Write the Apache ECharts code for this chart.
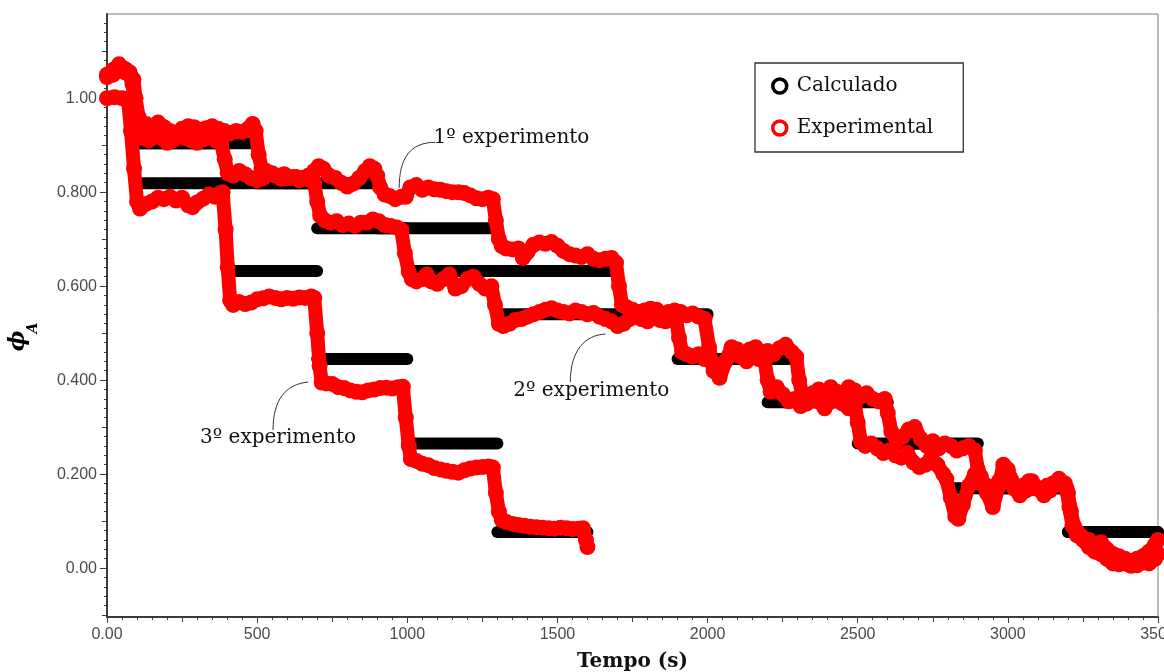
<!DOCTYPE html>
<html>
<head>
<meta charset="utf-8">
<script src="https://cdn.jsdelivr.net/npm/echarts@6/dist/echarts.min.js"></script>
<style>
  html, body { margin: 0; padding: 0; background: #ffffff; }
  #chart { width: 1164px; height: 672px; }
</style>
</head>
<body>
<div id="chart"></div>
<script>
// Axis ticks
const xTickValues = [0, 500, 1000, 1500, 2000, 2500, 3000, 3500];
const xTickLabels = ['0.00', '500', '1000', '1500', '2000', '2500', '3000', '3500'];
const yTickValues = [0, 0.2, 0.4, 0.6, 0.8, 1.0];
const yTickLabels = ['0.00', '0.200', '0.400', '0.600', '0.800', '1.00'];

// Calculated steps: [start (s), end (s), phi_A]
const calcExp1 = [
  [100, 500, 0.904], [500, 900, 0.819], [900, 1300, 0.723], [1300, 1700, 0.632],
  [1700, 2000, 0.540], [2000, 2300, 0.445], [2300, 2600, 0.353], [2600, 2900, 0.265],
  [2900, 3200, 0.170], [3200, 3500, 0.077]
];
const calcExp2 = [
  [100, 400, 0.904], [400, 700, 0.819], [700, 1000, 0.723], [1000, 1300, 0.632],
  [1300, 1900, 0.540], [1900, 2200, 0.445], [2200, 2500, 0.353], [2500, 2800, 0.265],
  [2800, 3200, 0.170], [3200, 3500, 0.077]
];
const calcExp3 = [
  [100, 400, 0.819], [400, 700, 0.632], [700, 1000, 0.445], [1000, 1300, 0.265],
  [1300, 1600, 0.077]
];

// Measured phi_A, 1st experiment: [time (s), phi_A]
const exp1 = [
  [0,1.05],[20,1.06],[40,1.072],[60,1.062],[75,1.055],[88,1.04],[95,1.0],[105,0.96],[115,0.94],
  [130,0.945],[150,0.94],[170,0.948],[190,0.938],[210,0.93],[230,0.925],[250,0.935],[270,0.94],
  [290,0.938],[310,0.932],[330,0.936],[350,0.94],[370,0.935],[390,0.93],[410,0.925],[430,0.93],
  [450,0.928],[470,0.935],[485,0.945],[495,0.93],[505,0.88],[515,0.85],
  [530,0.845],[550,0.84],[570,0.835],[590,0.838],[610,0.83],[630,0.832],[650,0.83],[670,0.835],
  [690,0.845],[705,0.855],[720,0.85],[740,0.835],[760,0.83],[780,0.82],[800,0.812],[820,0.818],
  [840,0.83],[860,0.845],[875,0.855],[890,0.85],[900,0.835],[910,0.81],[925,0.795],
  [940,0.792],[960,0.785],[980,0.79],[995,0.79],[1010,0.81],[1030,0.815],[1050,0.805],[1070,0.81],
  [1090,0.806],[1110,0.805],[1130,0.802],[1150,0.8],[1170,0.8],[1190,0.798],[1210,0.793],
  [1230,0.787],[1250,0.785],[1270,0.788],[1285,0.785],[1295,0.74],[1305,0.70],[1315,0.685],
  [1330,0.68],[1350,0.678],[1370,0.68],[1385,0.66],[1400,0.672],[1420,0.688],[1440,0.693],
  [1460,0.69],[1480,0.694],[1500,0.686],[1520,0.675],[1540,0.668],[1560,0.665],[1580,0.662],
  [1600,0.668],[1620,0.658],[1640,0.655],[1660,0.658],[1680,0.66],[1695,0.65],[1705,0.6],[1715,0.56],
  [1730,0.555],[1750,0.55],[1770,0.545],[1790,0.548],[1810,0.552],[1830,0.55],[1850,0.54],
  [1870,0.545],[1890,0.548],[1910,0.545],[1930,0.538],[1950,0.542],[1970,0.535],[1990,0.53],
  [2005,0.47],[2020,0.42],[2040,0.405],[2060,0.44],[2080,0.47],[2100,0.465],[2120,0.455],
  [2140,0.465],[2160,0.47],[2180,0.458],[2200,0.462],[2220,0.455],[2240,0.468],[2260,0.475],
  [2280,0.46],[2295,0.45],[2305,0.40],[2315,0.37],
  [2330,0.365],[2350,0.372],[2370,0.38],[2390,0.37],[2410,0.385],[2430,0.375],[2450,0.37],
  [2470,0.385],[2490,0.378],[2510,0.365],[2530,0.372],[2550,0.36],[2570,0.355],[2590,0.36],
  [2600,0.33],[2612,0.29],[2630,0.27],[2650,0.28],[2670,0.295],[2690,0.3],[2710,0.275],
  [2730,0.26],[2750,0.27],[2770,0.255],[2790,0.265],[2810,0.26],[2830,0.25],[2850,0.255],
  [2870,0.26],[2890,0.25],[2900,0.21],[2912,0.18],
  [2930,0.175],[2950,0.168],[2970,0.185],[2990,0.2],[3010,0.19],[3030,0.17],[3050,0.175],
  [3070,0.185],[3090,0.17],[3110,0.165],[3130,0.175],[3150,0.18],[3170,0.19],[3190,0.18],
  [3200,0.16],[3210,0.12],[3220,0.09],
  [3235,0.075],[3250,0.065],[3270,0.06],[3290,0.05],[3310,0.055],[3330,0.04],[3350,0.03],
  [3370,0.025],[3390,0.02],[3410,0.015],[3430,0.02],[3450,0.025],[3470,0.035],[3490,0.05],[3500,0.06]
];

// Measured phi_A, 2nd experiment
const exp2 = [
  [0,1.045],[20,1.05],[40,1.06],[60,1.055],[75,1.05],[85,1.03],[95,0.98],[105,0.94],
  [120,0.915],[140,0.91],[160,0.92],[180,0.915],[200,0.905],[220,0.91],[240,0.92],[260,0.915],
  [280,0.91],[300,0.905],[320,0.912],[340,0.918],[360,0.91],[380,0.905],[392,0.87],[402,0.84],
  [420,0.835],[440,0.845],[460,0.838],[480,0.83],[500,0.825],[520,0.83],[540,0.838],[560,0.835],
  [580,0.828],[600,0.83],[620,0.832],[640,0.825],[660,0.828],[680,0.83],[690,0.82],[700,0.78],[710,0.75],
  [725,0.74],[745,0.735],[765,0.738],[785,0.73],[805,0.733],[825,0.728],[845,0.735],[865,0.735],
  [885,0.742],[905,0.738],[925,0.73],[945,0.728],[965,0.725],[980,0.72],[992,0.67],[1005,0.63],[1015,0.615],
  [1030,0.61],[1050,0.615],[1065,0.625],[1080,0.61],[1100,0.605],[1120,0.615],[1140,0.625],
  [1160,0.595],[1180,0.6],[1200,0.615],[1220,0.62],[1240,0.605],[1260,0.595],[1280,0.6],
  [1292,0.56],[1305,0.52],
  [1320,0.515],[1340,0.52],[1360,0.528],[1380,0.53],[1400,0.535],[1420,0.54],[1440,0.545],
  [1460,0.55],[1480,0.553],[1500,0.548],[1520,0.545],[1540,0.542],[1560,0.548],[1580,0.545],
  [1600,0.54],[1620,0.543],[1640,0.535],[1660,0.53],[1680,0.525],[1700,0.515],[1720,0.52],
  [1740,0.53],[1760,0.535],[1780,0.53],[1800,0.525],[1820,0.535],[1840,0.528],[1860,0.525],
  [1880,0.535],[1895,0.53],[1905,0.49],[1915,0.46],
  [1930,0.455],[1950,0.45],[1970,0.455],[1990,0.445],[2010,0.44],[2030,0.43],[2050,0.435],
  [2070,0.45],[2090,0.46],[2110,0.45],[2130,0.44],[2150,0.455],[2170,0.445],[2190,0.44],
  [2200,0.4],[2210,0.375],
  [2230,0.385],[2250,0.37],[2270,0.355],[2290,0.36],[2310,0.345],[2330,0.35],[2350,0.37],
  [2370,0.355],[2390,0.34],[2410,0.355],[2430,0.37],[2450,0.35],[2470,0.34],[2490,0.35],
  [2500,0.31],[2510,0.27],
  [2525,0.26],[2545,0.265],[2565,0.255],[2585,0.245],[2605,0.25],[2625,0.24],[2645,0.235],
  [2665,0.245],[2685,0.225],[2705,0.215],[2725,0.22],[2745,0.235],[2765,0.22],[2785,0.2],
  [2795,0.19],[2810,0.15],[2825,0.11],[2835,0.105],[2850,0.135],[2870,0.175],[2890,0.2],
  [2910,0.195],[2930,0.16],[2950,0.13],[2970,0.175],[2985,0.22],[3000,0.21],[3020,0.17],
  [3040,0.155],[3060,0.165],[3080,0.185],[3100,0.17],[3120,0.155],[3140,0.165],[3160,0.178],
  [3180,0.182],[3195,0.17],[3205,0.13],[3215,0.09],
  [3230,0.07],[3250,0.06],[3270,0.045],[3290,0.035],[3310,0.03],[3330,0.02],[3350,0.01],
  [3370,0.008],[3390,0.01],[3410,0.005],[3430,0.006],[3450,0.012],[3470,0.01],[3490,0.02],[3500,0.03]
];

// Measured phi_A, 3rd experiment
const exp3 = [
  [0,1.0],[25,1.002],[50,1.0],[70,0.998],[80,0.93],[90,0.85],[100,0.78],
  [110,0.765],[130,0.775],[150,0.78],[170,0.788],[190,0.785],[210,0.79],[230,0.782],[250,0.788],
  [270,0.772],[285,0.768],[300,0.778],[320,0.786],[340,0.795],[360,0.79],[375,0.797],[385,0.80],
  [395,0.72],[402,0.64],[410,0.57],
  [420,0.56],[440,0.566],[460,0.562],[480,0.565],[500,0.572],[520,0.574],[540,0.578],[560,0.575],
  [580,0.572],[600,0.575],[620,0.573],[640,0.576],[660,0.575],[680,0.578],[690,0.575],
  [700,0.5],[708,0.43],[715,0.395],
  [730,0.393],[750,0.392],[770,0.385],[790,0.383],[810,0.378],[830,0.375],[850,0.374],[870,0.378],
  [890,0.38],[910,0.383],[930,0.384],[950,0.382],[970,0.385],[985,0.386],
  [995,0.32],[1005,0.26],[1012,0.232],
  [1030,0.228],[1050,0.222],[1070,0.219],[1090,0.213],[1110,0.21],[1130,0.207],[1150,0.205],
  [1170,0.203],[1190,0.208],[1210,0.212],[1230,0.214],[1250,0.215],[1270,0.216],[1285,0.214],
  [1295,0.16],[1305,0.12],[1315,0.102],
  [1330,0.098],[1350,0.094],[1370,0.092],[1390,0.09],[1410,0.088],[1430,0.087],[1450,0.086],
  [1470,0.085],[1490,0.084],[1510,0.086],[1530,0.085],[1550,0.083],[1570,0.084],[1585,0.085],
  [1595,0.06],[1600,0.045]
];

// Callout labels with their leader curves (data coordinates)
const callouts = [
  { text: '1º experimento', at: [1087, 0.915],
    path: [[1093, 0.906], [1010, 0.906], [973, 0.872], [973, 0.809]] },
  { text: '2º experimento', at: [1353, 0.377],
    path: [[1543, 0.396], [1543, 0.464], [1593, 0.496], [1660, 0.498]] },
  { text: '3º experimento', at: [310, 0.277],
    path: [[553, 0.294], [553, 0.357], [593, 0.391], [670, 0.396]] }
];

const serifFont = "'DejaVu Serif', 'Liberation Serif', serif";
const tickFont = "'Liberation Sans', Arial, sans-serif";
const axisColor = '#3c3c3c';

// Minor tick positions for the value axis
const yMidTicks = [];
for (let k = -1; k <= 11; k += 2) yMidTicks.push(+(k * 0.1).toFixed(2));
const yMinorTicks = [];
for (let k = -5; k <= 58; k++) yMinorTicks.push(+(k * 0.02).toFixed(2));

const chart = echarts.init(document.getElementById('chart'), null, { renderer: 'canvas' });

const calcSeries = [...calcExp1, ...calcExp2, ...calcExp3].map(s => ({
  type: 'line',
  name: 'Calculado',
  data: [[s[0], s[2]], [s[1], s[2]]],
  showSymbol: false,
  silent: true,
  lineStyle: { color: '#000000', width: 12, cap: 'round' },
  z: 2
}));

const expSeries = [exp1, exp2, exp3].map(d => ({
  type: 'line',
  name: 'Experimental',
  data: d,
  symbol: 'circle',
  symbolSize: 16,
  showAllSymbol: true,
  silent: true,
  itemStyle: { color: '#ff0000' },
  lineStyle: { color: '#ff0000', width: 14, cap: 'round', join: 'round' },
  z: 3
}));

const tickLabelStyle = { fontFamily: tickFont, fontSize: 16, color: '#4a4a4a' };

chart.setOption({
  animation: false,
  backgroundColor: '#ffffff',
  grid: {
    left: 107, right: 6, top: 14, bottom: 55,
    containLabel: false, outerBoundsMode: 'none',
    show: true, borderColor: '#7a7a7a', borderWidth: 1
  },
  legend: {
    orient: 'vertical',
    left: 755, top: 63,
    padding: [11, 30, 12, 16],
    itemGap: 18,
    itemWidth: 24, itemHeight: 14,
    borderColor: '#333333', borderWidth: 1.3,
    backgroundColor: '#ffffff',
    selectedMode: false,
    textStyle: { fontFamily: serifFont, fontSize: 20, color: '#111111', lineHeight: 24 },
    data: [
      { name: 'Calculado', icon: 'circle',
        itemStyle: { color: '#ffffff', borderColor: '#000000', borderWidth: 3.5 } },
      { name: 'Experimental', icon: 'circle',
        itemStyle: { color: '#ffffff', borderColor: '#ff0000', borderWidth: 3.5 } }
    ],
    z: 10
  },
  xAxis: [
    {
      type: 'value', min: 0, max: 3500, interval: 500, position: 'bottom',
      name: 'Tempo (s)', nameLocation: 'middle', nameGap: 35,
      nameTextStyle: { fontFamily: serifFont, fontSize: 20, fontWeight: 'bold', color: '#111111' },
      axisLine: { show: true, onZero: false, lineStyle: { color: axisColor, width: 2 } },
      axisTick: { show: true, length: 6, lineStyle: { color: axisColor, width: 1 } },
      minorTick: { show: true, splitNumber: 10, length: 3, lineStyle: { color: axisColor, width: 1 } },
      axisLabel: {
        margin: 10, ...tickLabelStyle,
        formatter: v => { const i = xTickValues.indexOf(v); return i >= 0 ? xTickLabels[i] : ''; }
      },
      splitLine: { show: false }
    },
    {
      type: 'value', min: 0, max: 3500, interval: 250, position: 'bottom',
      axisLine: { show: false, onZero: false },
      axisTick: { show: true, length: 5, lineStyle: { color: axisColor, width: 1 } },
      axisLabel: { show: false },
      splitLine: { show: false }
    }
  ],
  yAxis: [
    {
      type: 'value', min: -0.104, max: 1.179, position: 'left', offset: 0,
      axisLine: { show: true, onZero: false, lineStyle: { color: axisColor, width: 2 } },
      axisTick: { show: true, length: 7, customValues: yTickValues, lineStyle: { color: axisColor, width: 1 } },
      axisLabel: {
        margin: 10, ...tickLabelStyle,
        customValues: yTickValues,
        formatter: v => {
          const i = yTickValues.findIndex(t => Math.abs(t - v) < 1e-6);
          return i >= 0 ? yTickLabels[i] : '';
        }
      },
      splitLine: { show: false }
    },
    {
      type: 'value', min: -0.104, max: 1.179, position: 'left', offset: 0,
      axisLine: { show: false, onZero: false },
      axisTick: { show: true, length: 5, customValues: yMidTicks, lineStyle: { color: axisColor, width: 1 } },
      axisLabel: { show: false },
      splitLine: { show: false }
    },
    {
      type: 'value', min: -0.104, max: 1.179, position: 'left', offset: 0,
      axisLine: { show: false, onZero: false },
      axisTick: { show: true, length: 3, customValues: yMinorTicks, lineStyle: { color: axisColor, width: 1 } },
      axisLabel: { show: false },
      splitLine: { show: false }
    }
  ],
  series: [...calcSeries, ...expSeries]
});

// Callouts and the rotated axis symbol, placed through the chart's own coordinate system
const refSeries = calcSeries.length;
const px = p => chart.convertToPixel({ seriesIndex: refSeries }, p);

const graphics = [];
callouts.forEach(c => {
  const a = px(c.at);
  const p = c.path.map(px);
  graphics.push({
    type: 'bezierCurve',
    shape: { x1: p[0][0], y1: p[0][1], cpx1: p[1][0], cpy1: p[1][1],
             cpx2: p[2][0], cpy2: p[2][1], x2: p[3][0], y2: p[3][1] },
    style: { stroke: '#333333', lineWidth: 1, fill: null },
    silent: true, z: 20
  });
  graphics.push({
    type: 'text', x: a[0], y: a[1],
    style: { text: c.text, fontFamily: serifFont, fontSize: 20, fill: '#111111',
             align: 'left', verticalAlign: 'middle' },
    silent: true, z: 20
  });
});

graphics.push({
  type: 'text', x: 18, y: 341, rotation: Math.PI / 2,
  style: { text: 'ϕ', fontFamily: serifFont, fontSize: 22, fontWeight: 'bold', fontStyle: 'italic',
           fill: '#000000', align: 'center', verticalAlign: 'middle' },
  silent: true
});
graphics.push({
  type: 'text', x: 33, y: 328, rotation: Math.PI / 2,
  style: { text: 'A', fontFamily: serifFont, fontSize: 14, fontWeight: 'bold', fontStyle: 'italic',
           fill: '#000000', align: 'center', verticalAlign: 'middle' },
  silent: true
});

chart.setOption({ graphic: graphics });
</script>
</body>
</html>
